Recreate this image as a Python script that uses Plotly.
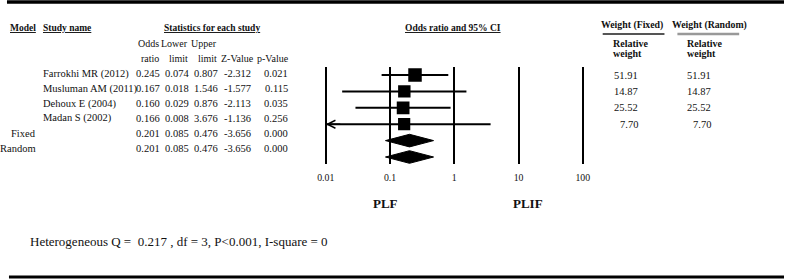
import math
import plotly.graph_objects as go

# ---------------- data ----------------
studies = ["Farrokhi MR (2012)", "Musluman AM (2011)", "Dehoux E (2004)", "Madan S (2002)"]
models = ["Fixed", "Random"]
odds_ratio = [0.245, 0.167, 0.160, 0.166, 0.201, 0.201]
lower_limit = [0.074, 0.018, 0.029, 0.008, 0.085, 0.085]
upper_limit = [0.807, 1.546, 0.876, 3.676, 0.476, 0.476]
z_value = [-2.312, -1.577, -2.113, -1.136, -3.656, -3.656]
p_value = [0.021, 0.115, 0.035, 0.256, 0.000, 0.000]
weight_fixed = [51.91, 14.87, 25.52, 7.70]
weight_random = [51.91, 14.87, 25.52, 7.70]
tick_vals = [0.01, 0.1, 1, 10, 100]
tick_text = ["0.01", "0.1", "1", "10", "100"]
heterogeneity = "Heterogeneous Q =  0.217 , df = 3, P<0.001, I-square = 0"

# ---------------- layout constants ----------------
W, H = 785, 280
FONT = "Liberation Serif"
INK = "#111111"
AX_MIN, AX_MAX = 0.01, 100
PX_PER_DEC = 64.5
X0_PX = 325            # pixel of AX_MIN
PAD_DEC = 0.1
ROW0_PX, ROW_STEP = 75, 16.4
PLOT_TOP_PX, PLOT_BOT_PX = 67, 164
TABLE_ROW0, TABLE_STEP = 74, 14.8

def px2y(py):
    return (py - ROW0_PX) / ROW_STEP

ylo, yhi = px2y(PLOT_TOP_PX), px2y(PLOT_BOT_PX)
lmin, lmax = math.log10(AX_MIN), math.log10(AX_MAX)
dom_l = X0_PX - PAD_DEC * PX_PER_DEC
dom_r = X0_PX + (lmax - lmin + PAD_DEC) * PX_PER_DEC

fig = go.Figure()

n_st = len(studies)
wmax = max(weight_fixed)
# CI lines and squares for studies
for i in range(n_st):
    lo = max(lower_limit[i], AX_MIN)
    fig.add_trace(go.Scatter(x=[lo, upper_limit[i]], y=[i, i], mode="lines",
                             line=dict(color="black", width=2), hoverinfo="skip", showlegend=False))
    fig.add_trace(go.Scatter(x=[odds_ratio[i]], y=[i], mode="markers",
                             marker=dict(symbol="square", size=12 + 1.5 * weight_fixed[i] / wmax, color="black"),
                             hoverinfo="skip", showlegend=False))

# summary diamonds
half_h = 6.3 / ROW_STEP
for j in range(len(models)):
    k = n_st + j
    fig.add_trace(go.Scatter(
        x=[lower_limit[k], odds_ratio[k], upper_limit[k], odds_ratio[k], lower_limit[k]],
        y=[k, k - half_h, k, k + half_h, k],
        mode="lines", fill="toself", fillcolor="black", line=dict(color="black", width=1),
        hoverinfo="skip", showlegend=False))

ann = []

def txt(s, x, y, size=10.5, anchor="left", bold=False, color=INK, yref="paper"):
    ann.append(dict(text=("<b>%s</b>" % s) if bold else s, x=x / W,
                    y=(1 - y / H) if yref == "paper" else y,
                    xref="paper", yref=yref, xanchor=anchor, yanchor="middle",
                    showarrow=False, borderpad=0, font=dict(family=FONT, size=size, color=color)))

# arrows for truncated CIs
for i in range(n_st):
    if lower_limit[i] < AX_MIN:
        ann.append(dict(x=lmin, y=i, xref="x", yref="y", ax=16, ay=0, axref="pixel", ayref="pixel",
                        text="", showarrow=True, arrowhead=5, arrowwidth=1.2, arrowsize=1.3,
                        arrowcolor="black"))

# headers
HB = 9.5
txt("<u>Model</u>", 7, 28, HB, bold=True)
txt("<u>Study name</u>", 40, 28, HB, bold=True)
txt("<u>Statistics for each study</u>", 211, 28, HB, "center", bold=True)
txt("<u>Odds ratio and 95% CI</u>", 453, 28, HB, "center", bold=True)
txt("Weight (Fixed)", 600, 25, 9.8, bold=True)
txt("Weight (Random)", 672, 25, 9.8, bold=True)
for xx in (612, 687):
    txt("Relative", xx, 43, 10, bold=True)
    txt("weight", xx, 54, 10, bold=True)

col_right = [160, 189, 218, 251, 288]
head1 = ["Odds", "Lower", "Upper"]
head2 = ["ratio", "limit", "limit"]
HS = 10
for c in range(3):
    txt(head1[c], col_right[c] - 1, 43, HS, anchor="right")
    txt(head2[c], col_right[c] - 1, 58, HS, anchor="right")
txt("Z-Value", 254, 58, HS, anchor="right")
txt("p-Value", 289, 58, HS, anchor="right")

# table rows
labels = studies + [""] * len(models)
for i in range(len(odds_ratio)):
    y = TABLE_ROW0 + TABLE_STEP * i
    if i < n_st:
        txt(labels[i], 40, y)
    else:
        txt(models[i - n_st], 35, y, anchor="right")
    vals = [odds_ratio[i], lower_limit[i], upper_limit[i], z_value[i], p_value[i]]
    for c, v in enumerate(vals):
        txt("%.3f" % v, col_right[c], y, anchor="right")

# weights (aligned with forest rows)
for i in range(n_st):
    txt("%.2f" % weight_fixed[i], 639, i, anchor="right", yref="y")
    txt("%.2f" % weight_random[i], 713, i, anchor="right", yref="y")

txt("PLF", 385, 203, 13, "center", bold=True)
txt("PLIF", 528, 203, 13, "center", bold=True)
txt(heterogeneity, 27, 241, 13)

shapes = [
    dict(type="line", xref="paper", yref="paper", x0=5 / W, x1=1, y0=1 - 2 / H, y1=1 - 2 / H,
         line=dict(color="black", width=3.5)),
    dict(type="line", xref="paper", yref="paper", x0=7 / W, x1=1, y0=1 - 277 / H, y1=1 - 277 / H,
         line=dict(color="black", width=3)),
    dict(type="line", xref="paper", yref="paper", x0=603 / W, x1=665 / W, y0=1 - 34 / H, y1=1 - 34 / H,
         line=dict(color="#555555", width=2)),
    dict(type="line", xref="paper", yref="paper", x0=678 / W, x1=740 / W, y0=1 - 34 / H, y1=1 - 34 / H,
         line=dict(color="#999999", width=2.5)),
]

fig.update_layout(
    width=W, height=H, margin=dict(l=0, r=0, t=0, b=0),
    paper_bgcolor="white", plot_bgcolor="white",
    showlegend=False, annotations=ann, shapes=shapes,
    xaxis=dict(type="log", range=[lmin - PAD_DEC, lmax + PAD_DEC],
               domain=[dom_l / W, dom_r / W],
               tickvals=tick_vals, ticktext=tick_text, showgrid=True, gridcolor="black", gridwidth=2.2,
               zeroline=False, showline=False, ticks="", ticklabelstandoff=6,
               tickfont=dict(family=FONT, size=9.8, color=INK), fixedrange=True),
    yaxis=dict(range=[yhi, ylo], domain=[1 - PLOT_BOT_PX / H, 1 - PLOT_TOP_PX / H],
               showgrid=False, zeroline=False, showticklabels=False, showline=False, fixedrange=True),
)

fig.write_html("out.html", config={"displayModeBar": False},
               post_script="document.body.style.margin='0px';document.body.style.overflow='hidden';")
